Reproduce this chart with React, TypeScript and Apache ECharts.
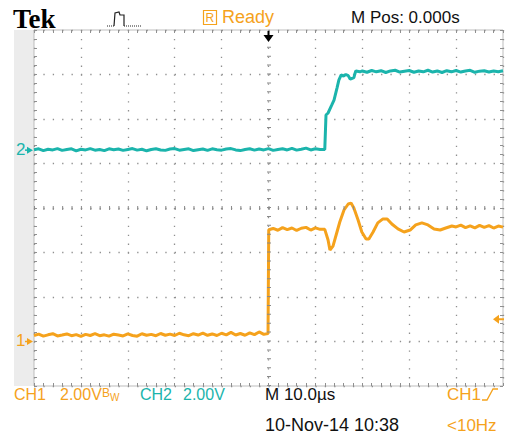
import React, { useEffect, useRef } from "react";
import * as echarts from "echarts";

// ---- scope settings ----
const timeMin = -50; // µs
const timeMax = 50;
const timePerDiv = 10;
const divMin = -4;
const divMax = 4;
const ch1VoltsPerDiv = 2;
const ch2VoltsPerDiv = 2;
const ch1Offset = -3; // divisions (ground marker "1")
const ch2Offset = 1.3; // divisions (ground marker "2")
const triggerTime = 0;
const triggerLevel = 1.0; // volts on CH1

// ---- CH1 (orange) samples: [time µs, volts] ----
const ch1Points: [number, number][] = [
  [-50, 0.27], [-49, 0.33], [-48, 0.24], [-47, 0.3], [-46, 0.35], [-45, 0.25], [-44, 0.29], [-43, 0.34], [-42, 0.26], [-41, 0.31],
  [-40, 0.23], [-39, 0.32], [-38, 0.27], [-37, 0.35], [-36, 0.26], [-35, 0.3], [-34, 0.24], [-33, 0.33], [-32, 0.29], [-31, 0.25],
  [-30, 0.34], [-29, 0.27], [-28, 0.24], [-27, 0.35], [-26, 0.28], [-25, 0.32], [-24, 0.26], [-23, 0.36], [-22, 0.28], [-21, 0.33],
  [-20, 0.27], [-19, 0.37], [-18, 0.3], [-17, 0.26], [-16, 0.35], [-15, 0.29], [-14, 0.38], [-13, 0.28], [-12, 0.34], [-11, 0.27],
  [-10, 0.37], [-9, 0.3], [-8, 0.41], [-7, 0.29], [-6, 0.36], [-5, 0.28], [-4, 0.39], [-3, 0.31], [-2, 0.43], [-1, 0.32],
  [-0.1, 0.36], [0.05, 5.02], [1, 5.08], [2, 5.0], [3, 5.12], [4, 5.03], [5, 5.1], [6, 4.99], [7, 5.09], [8, 5.13], [9, 5.01],
  [10, 5.11], [11, 5.04], [12.0, 5.04], [12.7, 4.56], [13.1, 4.11], [13.75, 4.29], [14.6, 4.92], [15.2, 5.37], [16.1, 5.91],
  [17.0, 6.18], [17.6, 6.22], [18.2, 6.0], [19.1, 5.46], [19.9, 4.92], [20.8, 4.61], [21.4, 4.61], [22.3, 4.92], [23.3, 5.33],
  [24.4, 5.51], [25.3, 5.51], [26.3, 5.28], [27.6, 5.06], [28.9, 4.92], [30.2, 5.01], [31.4, 5.24], [32.7, 5.33], [34.0, 5.24],
  [35.3, 5.06], [36.6, 5.01], [37.8, 5.1], [39.1, 5.19], [40, 5.15], [41, 5.23], [42, 5.12], [43, 5.2], [44, 5.11], [45, 5.22],
  [46, 5.13], [47, 5.21], [48, 5.1], [49, 5.19], [50, 5.14],
];

// ---- CH2 (teal) samples: [time µs, volts] ----
const ch2Points: [number, number][] = [
  [-50, 0.02], [-49, 0.06], [-48, -0.02], [-47, 0.04], [-46, 0.01], [-45, 0.07], [-44, -0.01], [-43, 0.03], [-42, 0.06], [-41, -0.03],
  [-40, 0.04], [-39, 0.01], [-38, 0.07], [-37, 0.0], [-36, 0.03], [-35, -0.02], [-34, 0.06], [-33, 0.02], [-32, 0.05], [-31, -0.01],
  [-30, 0.03], [-29, 0.07], [-28, 0.0], [-27, 0.04], [-26, -0.03], [-25, 0.03], [-24, 0.06], [-23, 0.01], [-22, -0.01], [-21, 0.05],
  [-20, 0.07], [-19, 0.0], [-18, 0.03], [-17, 0.06], [-16, -0.02], [-15, 0.02], [-14, 0.05], [-13, -0.01], [-12, 0.06], [-11, 0.02],
  [-10, 0.0], [-9, 0.05], [-8, 0.07], [-7, 0.01], [-6, -0.02], [-5, 0.03], [-4, 0.06], [-3, 0.0], [-2, 0.05], [-1, 0.01],
  [0, 0.07], [1, -0.01], [2, 0.03], [3, 0.06], [4, 0.01], [5, 0.08], [6, 0.0], [7, 0.04], [8, 0.09], [9, 0.01], [10, 0.06], [11, 0.03],
  [12.0, 0.03], [12.26, 1.58], [12.7, 1.67], [13.5, 2.03], [13.97, 2.25], [14.6, 2.79], [15.0, 3.15], [15.5, 3.38], [16.0, 3.33],
  [16.5, 3.4], [17.0, 3.35], [17.4, 3.2], [17.8, 3.22], [18.2, 3.26], [18.6, 3.56], [19.5, 3.52], [20, 3.56], [21, 3.5],
  [22, 3.58], [23, 3.52], [24, 3.57], [25, 3.49], [26, 3.56], [27, 3.59], [28, 3.51], [29, 3.55], [30, 3.58], [31, 3.5],
  [32, 3.56], [33, 3.52], [34, 3.59], [35, 3.51], [36, 3.56], [37, 3.49], [38, 3.57], [39, 3.52], [40, 3.58], [41, 3.51],
  [42, 3.56], [43, 3.59], [44, 3.5], [45, 3.55], [46, 3.57], [47, 3.51], [48, 3.56], [49, 3.52], [50, 3.57],
];

// ---- readout texts ----
const brandText = "Tek";
const statusText = "Ready";
const statusBoxText = "R";
const posText = "M Pos: 0.000s";
const ch1LabelText = "CH1";
const ch1ScaleText = "2.00V";
const ch2LabelText = "CH2";
const ch2ScaleText = "2.00V";
const timebaseText = "M 10.0\u00b5s";
const dateText = "10-Nov-14 10:38";
const trigSourceText = "CH1";
const trigFreqText = "<10Hz";

const ORANGE = "#f5a21c";
const TEAL = "#1bb4ac";
const GRID = "#8f8f8f";
const SANS = "'Liberation Sans', Arial, sans-serif";
const SERIF = "'Liberation Serif', 'Times New Roman', serif";

const GRID_LEFT = 34;
const GRID_TOP = 30;
const GRID_W = 469;
const GRID_H = 356;
const hPeriod = GRID_W / ((timeMax - timeMin) / timePerDiv) / 5;
const vPeriod = GRID_H / (divMax - divMin) / 5;

const toDiv = (pts: [number, number][], vpd: number, off: number) =>
  pts.map(([t, v]) => [t, v / vpd + off]);

function axisCommon() {
  return {
    z: 1,
    axisLine: { show: false, onZero: false },
    axisLabel: { show: false },
    axisTick: { show: true, inside: true, length: 3, lineStyle: { color: GRID, width: 1 } },
    minorTick: { show: true, splitNumber: 5, length: 3, lineStyle: { color: GRID, width: 1 } },
  };
}

export default function App() {
  const ref = useRef<HTMLDivElement>(null);
  useEffect(() => {
    const chart = echarts.init(ref.current!, null, { renderer: "svg" });
    const option: any = {
      animation: false,
      backgroundColor: "#ffffff",
      grid: {
        left: GRID_LEFT,
        top: GRID_TOP,
        width: GRID_W,
        height: GRID_H,
        show: true,
        backgroundColor: "transparent",
        borderColor: "#bdbdbd",
        borderWidth: 1,
        containLabel: false,
        outerBoundsMode: "none",
      },
      xAxis: [
        {
          type: "value", min: timeMin, max: timeMax, interval: timePerDiv, position: "bottom",
          ...axisCommon(),
          splitLine: { show: true, lineStyle: { color: GRID, width: 1.3, type: [1.3, vPeriod - 1.3] } },
        },
        {
          type: "value", min: timeMin, max: timeMax, interval: timePerDiv, position: "top",
          ...axisCommon(),
          splitLine: { show: false },
        },
      ],
      yAxis: [
        {
          type: "value", min: divMin, max: divMax, interval: 1, position: "left",
          ...axisCommon(),
          splitLine: { show: true, lineStyle: { color: GRID, width: 1.3, type: [1.3, hPeriod - 1.3] } },
        },
        {
          type: "value", min: divMin, max: divMax, interval: 1, position: "right",
          ...axisCommon(),
          splitLine: { show: false },
        },
      ],
      series: [
        {
          name: "CH1",
          type: "line",
          xAxisIndex: 0,
          yAxisIndex: 0,
          data: toDiv(ch1Points, ch1VoltsPerDiv, ch1Offset),
          showSymbol: false,
          symbol: "none",
          lineStyle: { color: ORANGE, width: 3 },
          z: 3,
          markLine: {
            silent: true,
            symbol: ["none", "none"],
            label: { show: false },
            animation: false,
            data: [
              { xAxis: 0, lineStyle: { color: "#8a8a8a", width: 4, type: [1, vPeriod - 1] } },
              { yAxis: 0, lineStyle: { color: "#8a8a8a", width: 4, type: [1, hPeriod - 1] } },
            ],
          },
        },
        {
          name: "CH2",
          type: "line",
          xAxisIndex: 0,
          yAxisIndex: 0,
          data: toDiv(ch2Points, ch2VoltsPerDiv, ch2Offset),
          showSymbol: false,
          symbol: "none",
          lineStyle: { color: TEAL, width: 3 },
          z: 4,
        },
      ],
    };
    chart.setOption(option);

    const px = (t: number, d: number) =>
      chart.convertToPixel({ xAxisIndex: 0, yAxisIndex: 0 } as any, [t, d]) as number[];
    const [tx, ty] = px(triggerTime, divMax);
    const [g1x, g1y] = px(timeMin, ch1Offset);
    const [g2x, g2y] = px(timeMin, ch2Offset);
    const [trx, trY] = px(timeMax, triggerLevel / ch1VoltsPerDiv + ch1Offset);

    const txt = (x: number, y: number, text: string, fill: string, size = 17, extra: any = {}) => ({
      type: "text",
      x,
      y,
      z: 10,
      style: {
        text,
        fill,
        fontSize: size,
        fontFamily: SANS,
        align: "left",
        verticalAlign: "middle",
        ...extra,
      },
    });

    const graphic: any[] = [
      // left strip
      { type: "rect", shape: { x: 14, y: GRID_TOP, width: GRID_LEFT - 14, height: GRID_H }, style: { fill: "#ececec" }, z: -1 },
      // brand
      {
        type: "text", x: 13, y: 19, z: 10,
        style: { text: brandText, fill: "#000", fontSize: 27, fontWeight: "bold", fontFamily: SERIF, verticalAlign: "middle" },
      },
      // acquisition icon
      { type: "polyline", z: 10, shape: { points: [[107, 26], [114, 26]] }, style: { stroke: "#222", lineWidth: 1, lineDash: [1, 1], fill: "none" } },
      { type: "polyline", z: 10, shape: { points: [[114, 26], [115, 13], [119, 12], [120, 15], [124, 15], [124, 26]] }, style: { stroke: "#222", lineWidth: 1.2, fill: "none" } },
      { type: "polyline", z: 10, shape: { points: [[124, 26], [142, 26]] }, style: { stroke: "#222", lineWidth: 1, lineDash: [1, 1], fill: "none" } },
      // status box
      { type: "rect", z: 10, shape: { x: 203.5, y: 10.5, width: 13, height: 14 }, style: { fill: "none", stroke: ORANGE, lineWidth: 1.2 } },
      txt(205.5, 18, statusBoxText, ORANGE, 12),
      txt(222, 17, statusText, ORANGE, 18),
      txt(351, 17, posText, "#111", 17),
      // bottom readouts
      txt(14, 394, ch1LabelText, ORANGE, 16),
      txt(60, 394, ch1ScaleText, ORANGE, 16),
      txt(102, 393, "B", ORANGE, 12),
      txt(110, 397, "W", ORANGE, 10),
      txt(140, 394, ch2LabelText, TEAL, 16),
      txt(183, 394, ch2ScaleText, TEAL, 16),
      txt(265, 394, timebaseText, "#111", 17),
      txt(447, 394, trigSourceText, ORANGE, 17),
      { type: "polyline", z: 10, shape: { points: [[482, 400], [487, 400], [493, 389], [498, 389]] }, style: { stroke: ORANGE, lineWidth: 1.3, fill: "none" } },
      txt(265, 425, dateText, "#111", 18),
      txt(447, 425, trigFreqText, ORANGE, 17),
      // trigger position arrow (top)
      { type: "line", z: 10, shape: { x1: tx, y1: ty + 1, x2: tx, y2: ty + 7 }, style: { stroke: "#000", lineWidth: 2 } },
      { type: "polygon", z: 10, shape: { points: [[tx - 5, ty + 5], [tx + 5, ty + 5], [tx, ty + 12]] }, style: { fill: "#000" } },
      // channel ground markers
      txt(g1x - 18, g1y - 1, "1", ORANGE, 17),
      { type: "polygon", z: 10, shape: { points: [[g1x - 7, g1y - 3.5], [g1x - 1, g1y], [g1x - 7, g1y + 3.5]] }, style: { fill: ORANGE } },
      { type: "line", z: 10, shape: { x1: g1x - 9, y1: g1y, x2: g1x - 4, y2: g1y }, style: { stroke: ORANGE, lineWidth: 1.5 } },
      txt(g2x - 18, g2y - 1, "2", TEAL, 17),
      { type: "polygon", z: 10, shape: { points: [[g2x - 7, g2y - 3.5], [g2x - 1, g2y], [g2x - 7, g2y + 3.5]] }, style: { fill: TEAL } },
      { type: "line", z: 10, shape: { x1: g2x - 9, y1: g2y, x2: g2x - 4, y2: g2y }, style: { stroke: TEAL, lineWidth: 1.5 } },
      // trigger level arrow (right)
      { type: "polygon", z: 10, shape: { points: [[trx - 10, trY], [trx - 4, trY - 4.5], [trx - 4, trY + 4.5]] }, style: { fill: ORANGE } },
      { type: "line", z: 10, shape: { x1: trx - 5, y1: trY, x2: trx + 1, y2: trY }, style: { stroke: ORANGE, lineWidth: 2 } },
    ];
    chart.setOption({ graphic });
    return () => chart.dispose();
  }, []);
  return (
    <div
      ref={ref}
      style={{ position: "fixed", left: 0, top: 0, width: 506, height: 436, background: "#fff" }}
    />
  );
}
